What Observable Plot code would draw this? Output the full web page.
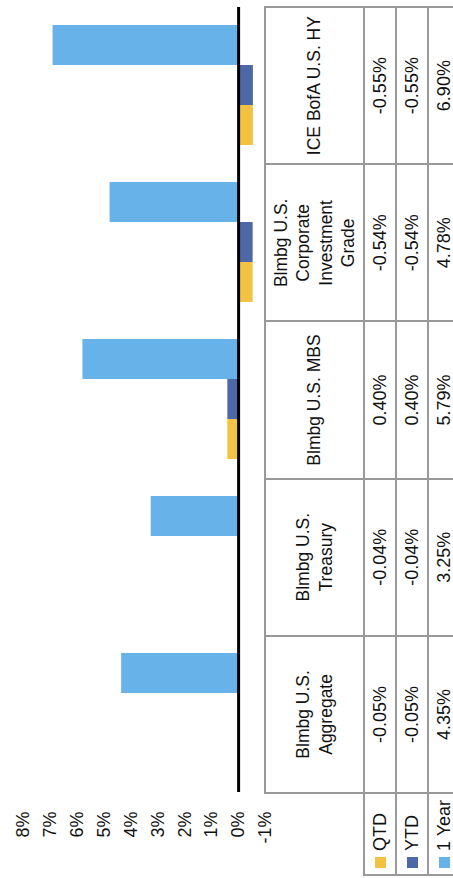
<!DOCTYPE html>
<html>
<head>
<meta charset="utf-8">
<script src="https://cdn.jsdelivr.net/npm/d3@7"></script>
<script src="https://cdn.jsdelivr.net/npm/@observablehq/plot@0.6"></script>
<style>
  html, body { margin: 0; padding: 0; background: #fff; }
  #page { position: relative; width: 453px; height: 878px; overflow: hidden; background: #fff; }
  #upright { position: absolute; left: 0; top: 0; width: 878px; height: 453px;
    transform-origin: 0 0; transform: translate(0px, 878px) rotate(-90deg);
    font-family: "Liberation Sans", Arial, sans-serif; color: #111; }
  #upright svg { position: absolute; left: 0; top: 0; }
  .cell { position: absolute; box-sizing: border-box; border: 2px solid #999;
    display: flex; align-items: center; justify-content: center; text-align: center;
    font-size: 18px; line-height: 22.5px; white-space: nowrap; }
  .hdr { font-size: 17.5px; }
  .leg { justify-content: flex-start; padding-left: 6px; }
  .sw { display: inline-block; width: 11px; height: 11px; margin-right: 6px; }
</style>
</head>
<body>
<div id="page"><div id="upright"></div></div>
<script>
// ---- data ----
const categories = ["Blmbg U.S. Aggregate", "Blmbg U.S. Treasury", "Blmbg U.S. MBS",
  "Blmbg U.S. Corporate Investment Grade", "ICE BofA U.S. HY"];
const headerLines = [["Blmbg U.S.", "Aggregate"], ["Blmbg U.S.", "Treasury"], ["Blmbg U.S. MBS"],
  ["Blmbg U.S.", "Corporate", "Investment", "Grade"], ["ICE BofA U.S. HY"]];
const series = ["QTD", "YTD", "1 Year"];
const qtd = [-0.05, -0.04, 0.40, -0.54, -0.55];
const ytd = [-0.05, -0.04, 0.40, -0.54, -0.55];
const oneYear = [4.35, 3.25, 5.79, 4.78, 6.90];
const yTicks = [-1, 0, 1, 2, 3, 4, 5, 6, 7, 8];
const colors = ["#F3C242", "#4E67A6", "#67B2E8"];

const seriesValues = [qtd, ytd, oneYear];
const rows = [];
categories.forEach((c, i) => series.forEach((s, j) => rows.push({category: c, series: s, value: seriesValues[j][i]})));

const W = 878, H = 453;
const mL = 85, mR = 7, mT = 23, mB = 188;

const chart = Plot.plot({
  width: W, height: H,
  marginLeft: mL, marginRight: mR, marginTop: mT, marginBottom: mB,
  facet: {marginTop: 0, marginRight: 0, marginBottom: 0, marginLeft: 0},
  style: {fontFamily: "'Liberation Sans', Arial, sans-serif", fontSize: "18px", color: "#111", background: "transparent", overflow: "visible"},
  fx: {domain: categories, paddingInner: 0, paddingOuter: 0, axis: null, label: null},
  x: {domain: series, paddingInner: 0, paddingOuter: 0.45, axis: null, label: null},
  y: {domain: [-1, 8], axis: null, label: null},
  color: {domain: series, range: colors},
  marks: [
    Plot.barY(rows, {fx: "category", x: "series", y: "value", fill: "series"}),
    Plot.ruleY([0], {stroke: "#000", strokeWidth: 3}),
    Plot.axisY(yTicks, {tickFormat: d => d + "%", tickSize: 0, tickPadding: 20, fontSize: 18, label: null})
  ]
});
const up = document.getElementById("upright");
up.appendChild(chart);

// ---- table below the chart (upright coordinates) ----
const bw = (W - mL - mR) / categories.length;
const xb = [3, ...categories.map((_, i) => mL + bw * (i + 1))];
xb.splice(1, 0, mL);
const yb = [265, 364, 396, 428, 460];

function cell(r, c, html, cls) {
  const d = document.createElement("div");
  d.className = "cell " + (cls || "");
  d.style.left = (xb[c] - 1) + "px";
  d.style.top = (yb[r] - 1) + "px";
  d.style.width = (xb[c + 1] - xb[c] + 2) + "px";
  d.style.height = (yb[r + 1] - yb[r] + 2) + "px";
  d.innerHTML = html;
  up.appendChild(d);
}
headerLines.forEach((lines, i) => cell(0, i + 1, "<div>" + lines.join("<br>") + "</div>", "hdr"));
series.forEach((s, j) => {
  cell(j + 1, 0, `<span class="sw" style="background:${colors[j]}"></span>${s}`, "leg");
  seriesValues[j].forEach((v, i) => cell(j + 1, i + 1, v.toFixed(2) + "%"));
});
</script>
</body>
</html>
